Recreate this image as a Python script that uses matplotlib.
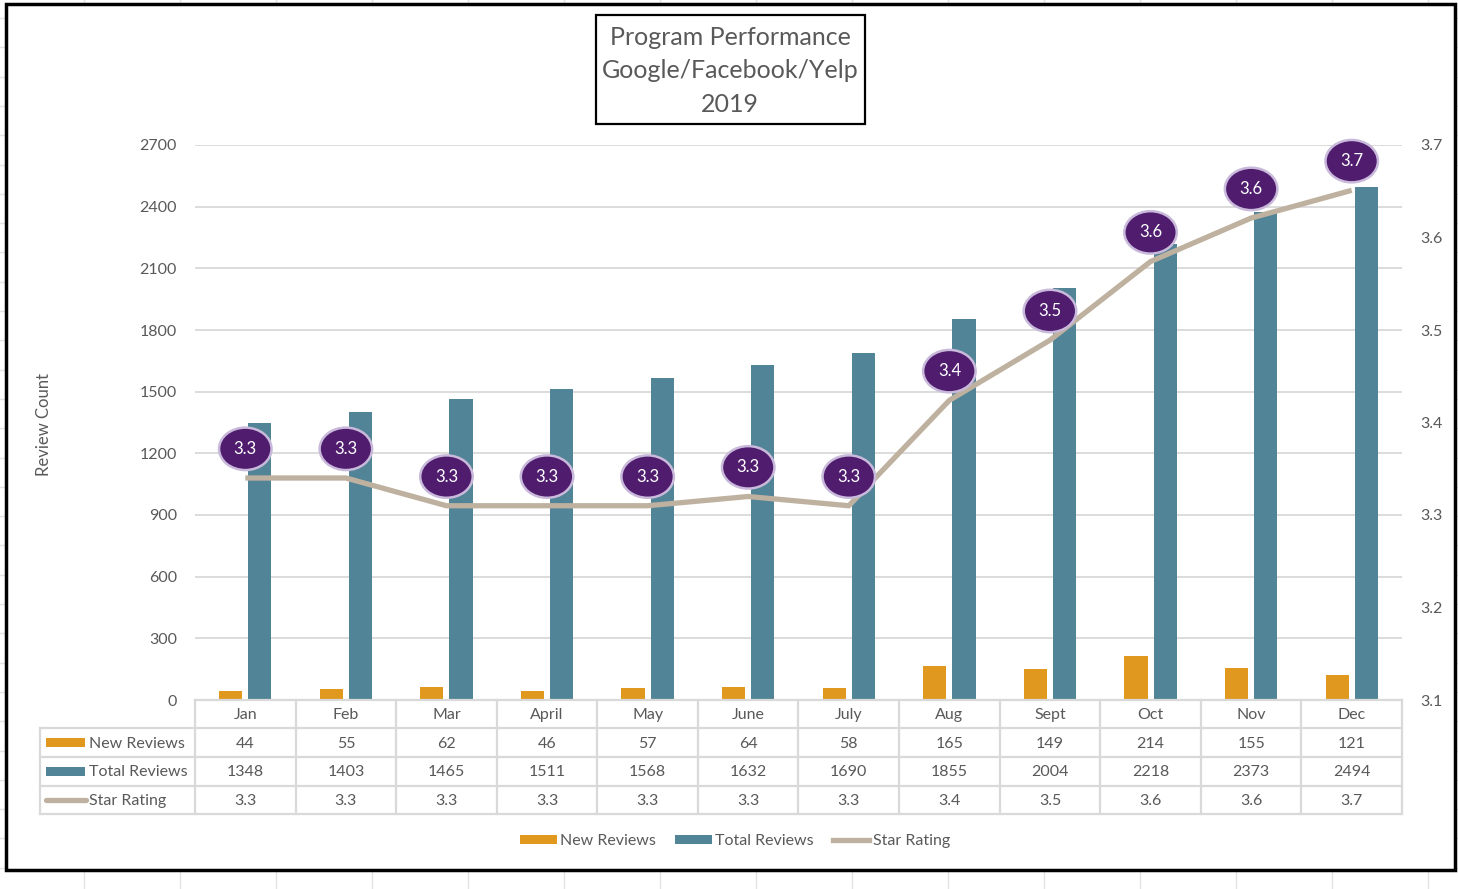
import matplotlib
matplotlib.use("Agg")
import matplotlib.pyplot as plt
from matplotlib.patches import Rectangle, Patch
from matplotlib.lines import Line2D
from matplotlib.transforms import blended_transform_factory

plt.rcParams['font.family'] = ['Lato', 'DejaVu Sans']

# =========================
# data
# =========================
months = ['Jan', 'Feb', 'Mar', 'April', 'May', 'June', 'July', 'Aug', 'Sept', 'Oct', 'Nov', 'Dec']
new_reviews = [44, 55, 62, 46, 57, 64, 58, 165, 149, 214, 155, 121]
total_reviews = [1348, 1403, 1465, 1511, 1568, 1632, 1690, 1855, 2004, 2218, 2373, 2494]
star_rating = [3.34, 3.34, 3.31, 3.31, 3.31, 3.32, 3.31, 3.424, 3.489, 3.574, 3.621, 3.651]
left_ticks = [0, 300, 600, 900, 1200, 1500, 1800, 2100, 2400, 2700]
right_ticks = [3.1, 3.2, 3.3, 3.4, 3.5, 3.6, 3.7]

ORANGE = '#E0981F'
TEAL = '#528497'
TAN = '#BEB19F'
PURPLE = '#4F1C6E'
GRID = '#D9D9D9'
TXT = '#595959'

W, H = 1458, 889
fig = plt.figure(figsize=(W / 100, H / 100), dpi=100)


def fx(px):
    return px / W


def fy(py):
    return 1 - py / H


# spreadsheet cells behind the chart
for k in range(16):
    fig.add_artist(Line2D([fx(84 + 96 * k)] * 2, [0, 1], color='#E3E3E3', lw=1, zorder=0))
for k in range(31):
    y = 18 + 29.3 * k
    fig.add_artist(Line2D([0, 1], [fy(y)] * 2, color='#E3E3E3', lw=1, zorder=0))
fig.add_artist(Rectangle((fx(6), fy(870)), fx(1455) - fx(6), fy(4) - fy(870),
                         facecolor='white', edgecolor='black', lw=2.5, zorder=0.5))

# =========================
# main axes
# =========================
ax = fig.add_axes([fx(195), fy(700), fx(1402) - fx(195), fy(145) - fy(700)])
ax.set_zorder(1)
ax.patch.set_visible(False)
x = list(range(len(months)))
bw = 0.23
ax.bar([i - 0.145 for i in x], new_reviews, width=bw, color=ORANGE, zorder=3)
ax.bar([i + 0.145 for i in x], total_reviews, width=bw, color=TEAL, zorder=3)
ax.set_xlim(-0.5, len(months) - 0.5)
ax.set_ylim(0, 2700)
ax.set_yticks(left_ticks)
ax.set_xticks([])
ax.grid(axis='y', color=GRID, lw=1.3, zorder=0)
ax.tick_params(axis='y', length=0, pad=13, labelsize=11.5, labelcolor=TXT)
for s in ax.spines.values():
    s.set_visible(False)
fig.text(fx(44), fy(425), 'Review Count', rotation=90, ha='center', va='center',
         fontsize=12, color=TXT)

ax2 = ax.twinx()
ax2.plot(x, star_rating, color=TAN, lw=3.8, solid_capstyle='butt', zorder=4)
ax2.set_ylim(3.1, 3.7)
ax2.set_yticks(right_ticks)
ax2.set_yticklabels([f'{v:.1f}' for v in right_ticks])
ax2.tick_params(axis='y', length=0, pad=13, labelsize=11.5, labelcolor=TXT)
for s in ax2.spines.values():
    s.set_visible(False)
for i, v in enumerate(star_rating):
    ax2.annotate(f'{v:.1f}', (i, v), xytext=(0, 21), textcoords='offset points',
                 ha='center', va='center', color='white', fontsize=12, zorder=6,
                 bbox=dict(boxstyle='ellipse,pad=0.42', fc=PURPLE, ec='#C9B9DA', lw=1.8))

# =========================
# data table
# =========================
tr = blended_transform_factory(ax.transData, fig.transFigure)
rows_y = [700, 728, 757, 786, 814]
x_left, x_right = fx(40), fx(1402)
# horizontal lines
fig.add_artist(Line2D([fx(195), x_right], [fy(700)] * 2, color=GRID, lw=1.6, zorder=2))
for y in rows_y[1:]:
    fig.add_artist(Line2D([x_left, x_right], [fy(y)] * 2, color=GRID, lw=1.6, zorder=2))
# vertical lines
fig.add_artist(Line2D([x_left] * 2, [fy(728), fy(814)], color=GRID, lw=1.6, zorder=2))
for i in range(len(months) + 1):
    ax.add_artist(Line2D([i - 0.5] * 2, [fy(700), fy(814)], transform=tr, color=GRID,
                         lw=1.6, clip_on=False, zorder=2))

table_rows = [
    months,
    [str(v) for v in new_reviews],
    [str(v) for v in total_reviews],
    [f'{v:.1f}' for v in star_rating],
]
for r, vals in enumerate(table_rows):
    yc = fy((rows_y[r] + rows_y[r + 1]) / 2 + 1)
    for i, t in enumerate(vals):
        ax.text(i, yc, t, transform=tr, ha='center', va='center', fontsize=11.5,
                color=TXT, clip_on=False)

row_names = ['New Reviews', 'Total Reviews', 'Star Rating']
for r, name in enumerate(row_names):
    yc = (rows_y[r + 1] + rows_y[r + 2]) / 2
    if r < 2:
        fig.add_artist(Rectangle((fx(46), fy(yc + 4.5)), fx(85) - fx(46), fy(yc - 4.5) - fy(yc + 4.5),
                                 facecolor=[ORANGE, TEAL][r], edgecolor='none', zorder=3))
    else:
        fig.add_artist(Line2D([fx(46), fx(86)], [fy(yc)] * 2, color=TAN, lw=3.8,
                              solid_capstyle='round', zorder=3))
    fig.text(fx(89), fy(yc + 1), name, ha='left', va='center', fontsize=11.5, color=TXT)

# =========================
# legend + title
# =========================
handles = [Patch(facecolor=ORANGE, label='New Reviews'),
           Patch(facecolor=TEAL, label='Total Reviews'),
           Line2D([], [], color=TAN, lw=3.8, label='Star Rating')]
fig.legend(handles=handles, loc='center', bbox_to_anchor=(fx(735), fy(841)), ncol=3,
           frameon=False, fontsize=11.5, labelcolor=TXT, handlelength=2.3, handleheight=0.55,
           handletextpad=0.2, columnspacing=1.2)

fig.add_artist(Rectangle((fx(596), fy(124)), fx(865) - fx(596), fy(15) - fy(124),
                         facecolor='white', edgecolor='black', lw=1.6, zorder=3))
fig.text(fx(730), fy(71), 'Program Performance\nGoogle/Facebook/Yelp\n2019', ha='center',
         va='center', fontsize=18, color=TXT, linespacing=1.56, zorder=4)

plt.savefig('out.png', dpi=100)
